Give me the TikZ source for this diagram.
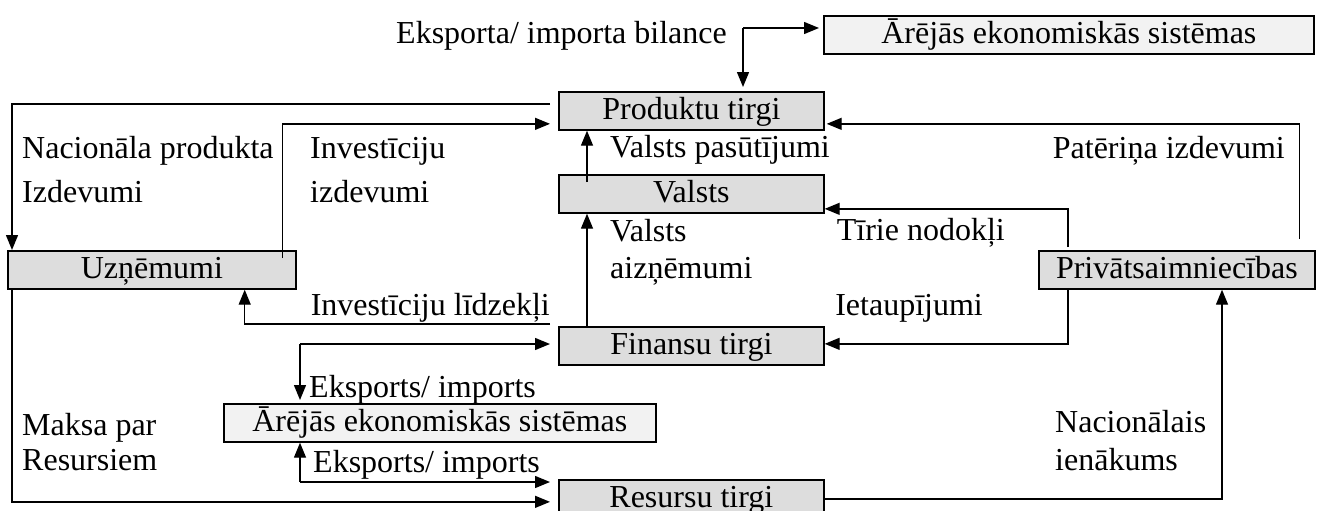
\documentclass[tikz,border=0pt]{standalone}
\usepackage{fontspec}
\setmainfont{Liberation Serif}
\usetikzlibrary{arrows.meta}
\definecolor{boxgray}{HTML}{DDDDDD}
\definecolor{boxlight}{HTML}{F2F2F2}
\begin{document}
\begin{tikzpicture}[x=1pt,y=-1pt,
  font=\fontsize{32}{38}\selectfont,
  box/.style={draw, line width=1.7pt, fill=boxgray, minimum height=38pt, inner sep=0pt,
    text height=23pt, text depth=6pt, anchor=north west},
  lightbox/.style={box, fill=boxlight},
  arr/.style={line width=1.4pt, -{Triangle[length=15pt,width=12pt]}},
  lbl/.style={inner sep=0pt, anchor=base west},
  lblr/.style={inner sep=0pt, anchor=base east}]
\useasboundingbox (0,0) rectangle (1327,511);
\clip (0,0) rectangle (1327,511);
% boxes
\node[lightbox, minimum width=490pt] (arT) at (823,15) {Ārējās ekonomiskās sistēmas};
\node[box, minimum width=265pt] (prod) at (558,91) {Produktu tirgi};
\node[box, minimum width=265pt] (valsts) at (558,174) {Valsts};
\node[box, minimum width=288pt] (uzn) at (7,250) {Uzņēmumi};
\node[box, minimum width=276pt] (priv) at (1038,250) {Privātsaimniecības};
\node[box, minimum width=265pt] (fin) at (558,326) {Finansu tirgi};
\node[lightbox, minimum width=432pt] (arB) at (223,403) {Ārējās ekonomiskās sistēmas};
\node[box, minimum width=265pt] (res) at (558,479) {Resursu tirgi};
% free ends
\coordinate (eb) at (743,28);
\coordinate (np) at (550,104);
\coordinate (il) at (550,324);
\coordinate (ef) at (300,344);
\coordinate (er) at (300,482);
% connectors
\draw[arr, shorten >=4pt] (eb) -- (eb |- prod.north);
\draw[arr, shorten >=4pt] (eb) -- (arT.west |- eb);
\draw[arr] (np) -| ([xshift=5pt]uzn.north west);
\draw[arr, shorten >=8pt] ([xshift=-14pt,yshift=-8pt]uzn.north east) |- ([yshift=-13pt]prod.west);
\draw[arr] ([xshift=29pt,yshift=-8pt]valsts.north west) -- ([xshift=29pt]prod.south west);
\draw[arr] ([xshift=29pt]fin.north west) -- ([xshift=29pt]valsts.south west);
\draw[arr, shorten >=2pt] ([xshift=-16pt,yshift=11pt]priv.north east) |- ([yshift=-13pt]prod.east);
\draw[arr] ([xshift=30pt,yshift=3pt]priv.north west) |- ([yshift=-15pt]valsts.east);
\draw[arr] ([xshift=30pt]priv.south west) |- ([yshift=2pt]fin.east);
\draw[arr] (il) -| ([xshift=-52pt]uzn.south east);
\draw[arr, shorten >=8pt] ([xshift=5pt]uzn.south west) |- ([yshift=-3pt]res.west);
\draw[arr] (res.east) -| ([xshift=184pt]priv.south west);
\draw[arr, shorten >=8pt] (ef) -- (fin.west |- ef);
\draw[arr, shorten >=3pt] (ef) -- (ef |- arB.north);
\draw[arr, shorten >=8pt] (er) -- (res.west |- er);
\draw[arr] (er) -- (er |- arB.south);
% labels
\node[lblr] (tEB) at (727,44) {Eksporta/ importa bilance};
\node[lbl] (tNP1) at (22,158) {Nacionāla produkta};
\node[lbl] (tNP2) at (22,202) {Izdevumi};
\node[lbl] (tII1) at (310,158) {Investīciju};
\node[lbl] (tII2) at (310,202) {izdevumi};
\node[lbl] (tVP) at (610,157) {Valsts pasūtījumi};
\node[lblr] (tPI) at (1285,158) {Patēriņa izdevumi};
\node[lbl] (tVA1) at (610,241) {Valsts};
\node[lbl] (tVA2) at (610,278) {aizņēmumi};
\node[lblr] (tTN) at (1005,240) {Tīrie nodokļi};
\node[lblr] (tIe) at (983,315) {Ietaupījumi};
\node[lblr] (tIL) at (550,315) {Investīciju līdzekļi};
\node[lbl] (tE1) at (309,397) {Eksports/ imports};
\node[lbl] (tE2) at (313,472) {Eksports/ imports};
\node[lbl] (tM1) at (22,435) {Maksa par};
\node[lbl] (tM2) at (22,470) {Resursiem};
\node[lbl] (tN1) at (1055,432) {Nacionālais};
\node[lbl] (tN2) at (1055,470) {ienākums};
\end{tikzpicture}
\end{document}
